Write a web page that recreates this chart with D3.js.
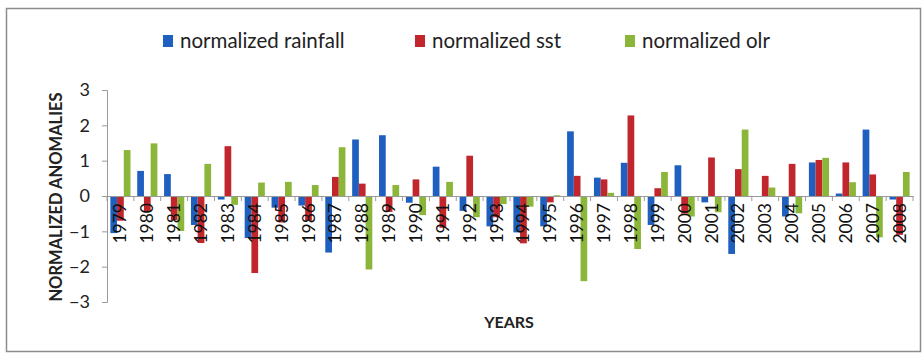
<!DOCTYPE html>
<html><head><meta charset="utf-8">
<script src="https://cdn.jsdelivr.net/npm/d3@7"></script>
<style>body{margin:0;background:#fff}svg{display:block}</style>
</head><body>
<svg id="c" width="922" height="353"></svg>
<script>
const years = ["1979","1980","1981","1982","1983","1984","1985","1986","1987","1988","1989","1990","1991","1992","1993","1994","1995","1996","1997","1998","1999","2000","2001","2002","2003","2004","2005","2006","2007","2008"];
const rainfall = [-1.05,0.71,0.62,-0.82,-0.1,-1.19,-0.33,-0.27,-1.6,1.6,1.72,-0.19,0.83,-0.42,-0.86,-1.03,-0.86,1.83,0.52,0.94,-0.82,0.87,-0.18,-1.64,0.0,-0.58,0.95,0.07,1.88,-0.1];
const sst = [-0.7,-0.45,-0.68,-1.33,1.41,-2.18,-0.75,-0.7,0.54,0.35,-0.45,0.47,-0.9,1.14,-0.6,-1.34,-0.18,0.57,0.47,2.28,0.22,-0.5,1.09,0.76,0.57,0.91,1.02,0.95,0.61,-1.1];
const olr = [1.3,1.49,-0.99,0.91,-0.25,0.38,0.4,0.31,1.38,-2.08,0.31,-0.54,0.4,-0.6,-0.23,-0.3,0.02,-2.41,0.09,-1.5,0.68,-0.58,-0.46,1.88,0.24,-0.49,1.08,0.39,-1.17,0.68];
const seriesNames = ["normalized rainfall","normalized sst","normalized olr"];
const colors = ["#1f5fbf","#c0262c","#8cb63a"];
const yTicks = [-3,-2,-1,0,1,2,3];

const svg = d3.select("#c");
svg.append("rect").attr("x",6.5).attr("y",8.5).attr("width",914).attr("height",343)
  .attr("fill","#fff").attr("stroke","#8c8c8c").attr("stroke-width",1.5);

const x = d3.scaleBand().domain(years).range([107,913]);
const sx = d3.scaleBand().domain([0,1,2]).range([0,x.bandwidth()]).paddingOuter(0.5).paddingInner(0);
const y = d3.scaleLinear().domain([-3,3]).range([302,90]);

const series = [rainfall,sst,olr];
series.forEach((vals,si)=>{
  svg.append("g").selectAll("rect").data(vals).join("rect")
    .attr("x",(d,i)=>x(years[i])+sx(si))
    .attr("width",sx.bandwidth())
    .attr("y",d=>y(Math.max(0,d)))
    .attr("height",d=>Math.abs(y(d)-y(0)))
    .attr("fill",colors[si]);
});

// y axis
const ya = svg.append("g").attr("transform","translate(107,0)")
  .call(d3.axisLeft(y).tickValues(yTicks).tickSize(5).tickPadding(12).tickFormat(d3.format("d")));
ya.select(".domain").attr("stroke","#9a9a9a");
ya.selectAll(".tick line").attr("stroke","#9a9a9a");
ya.selectAll("text").attr("font-family","Lato, 'Open Sans', sans-serif").attr("font-size",18).attr("fill","#222");

// x axis at zero
const xa = svg.append("g").attr("transform",`translate(0,${y(0)})`)
  .call(d3.axisBottom(x).tickSize(0).tickFormat(""));
xa.select(".domain").attr("stroke","#9a9a9a");
xa.selectAll(".tick").remove();
const bounds = years.map(yr=>x(yr)).concat([x.range()[1]]);
xa.selectAll("line.sep").data(bounds).join("line").attr("class","sep")
  .attr("x1",d=>d).attr("x2",d=>d).attr("y1",0).attr("y2",5).attr("stroke","#9a9a9a");

// x labels
svg.append("g").selectAll("text").data(years).join("text")
  .attr("transform",d=>`translate(${x(d)+x.bandwidth()/2+6},${y(0)+7}) rotate(-90)`)
  .attr("text-anchor","end")
  .attr("font-family","Lato, 'Open Sans', sans-serif").attr("font-size",17.5).attr("fill","#111")
  .text(d=>d);

// titles
svg.append("text").attr("transform","translate(62,197) rotate(-90)")
  .attr("text-anchor","middle").attr("font-family","Lato, 'Open Sans', sans-serif")
  .attr("font-weight","bold").attr("font-size",16.5).attr("fill","#222").text("NORMALIZED ANOMALIES");
svg.append("text").attr("x",509).attr("y",328).attr("text-anchor","middle")
  .attr("font-family","Lato, 'Open Sans', sans-serif").attr("font-weight","bold")
  .attr("font-size",16).attr("fill","#222").text("YEARS");

// legend
const legX = [163,415,625];
const lg = svg.append("g");
seriesNames.forEach((n,i)=>{
  lg.append("rect").attr("x",legX[i]).attr("y",35).attr("width",10).attr("height",12).attr("fill",colors[i]);
  lg.append("text").attr("x",legX[i]+17).attr("y",48)
    .attr("font-family","Lato, 'Open Sans', sans-serif").attr("font-size",20.5).attr("fill","#222").text(n);
});
</script>
</body></html>
